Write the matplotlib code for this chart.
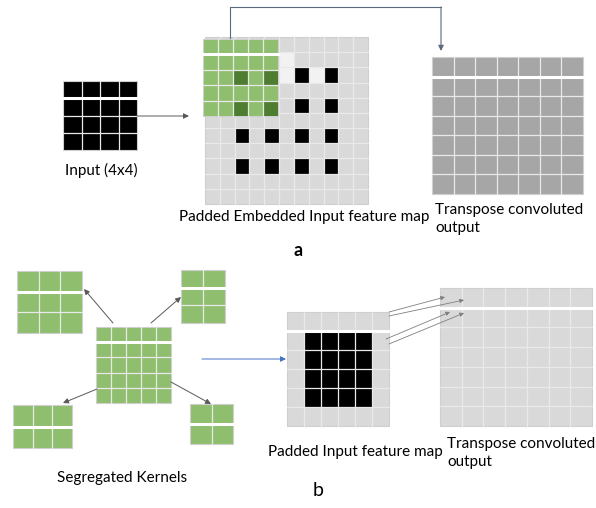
"""Transposed convolution vs. segregated kernels: two-panel schematic."""
import matplotlib
matplotlib.use("Agg")
import matplotlib.pyplot as plt
from matplotlib.patches import Rectangle

# ── diagram content ──────────────────────────────────────────────────────────
INPUT_SHAPE = (4, 4)                    # rows, cols
PAD_A_SHAPE = (11, 11)
PAD_A_BLACK_ROWS = [2, 4, 6, 8]         # embedded input (stride-2 zero insertion)
PAD_A_BLACK_COLS = [2, 4, 6, 8]
PAD_A_LIGHT = [(1, 5), (2, 5), (2, 7)]
KERNEL_SHAPE = (5, 5)
OUT_SHAPE = (7, 7)
SUB_KERNEL_SHAPES = [(3, 3), (3, 2), (2, 3), (2, 2)]   # TL, TR, BL, BR
PAD_B_SHAPE = (6, 6)
PAD_B_BLACK_ROWS = [1, 2, 3, 4]
PAD_B_BLACK_COLS = [1, 2, 3, 4]

LBL_INPUT = "Input (4x4)"
LBL_PAD_A = "Padded Embedded Input feature map"
LBL_PAD_B = "Padded Input feature map"
LBL_OUT = "Transpose convoluted\noutput"
LBL_KERN = "Segregated Kernels"
PANELS = ["a", "b"]

GREEN = "#8fbf6e"
DARK_GREEN = "#4e7d32"
LIGHT = "#d9d9d9"
PALE = "#f2f2f2"
DARK = "#a6a6a6"
LINE = "#e9e9e9"
ARROW = "#595959"
FONT = "Lato"
FS = 11


def grid(ax, box, shape, color, cells=None, gap=True, lw=0.9, zorder=1):
    """box = (x0, y0, x1, y1) in pixels; cells = {(r, c): colour}."""
    x0, y0, x1, y1 = box
    nr, nc = shape
    cw, ch = (x1 - x0) / nc, (y1 - y0) / nr
    ax.add_patch(Rectangle((x0, y0), x1 - x0, y1 - y0, facecolor=color,
                           edgecolor="#cfcfcf", linewidth=0.8, zorder=zorder))
    for (r, c), col in (cells or {}).items():
        ax.add_patch(Rectangle((x0 + c * cw, y0 + r * ch), cw, ch,
                               facecolor=col, edgecolor="none", zorder=zorder + 0.1))
    for i in range(1, nc):
        ax.plot([x0 + i * cw] * 2, [y0, y1], color=LINE, lw=lw, zorder=zorder + 0.2)
    for j in range(1, nr):
        w = 2.2 if (gap and j == 1) else lw
        c = "white" if (gap and j == 1) else LINE
        ax.plot([x0, x1], [y0 + j * ch] * 2, color=c, lw=w, zorder=zorder + 0.2)


def arrow(ax, p0, p1, color=ARROW, lw=0.7, ms=8, head=None):
    ax.annotate("", xy=p1, xytext=p0,
                arrowprops=dict(arrowstyle="-|>", color=color, lw=lw,
                                mutation_scale=ms, shrinkA=0, shrinkB=0,
                                fc=head or color, ec=head or color))


def main():
    fig = plt.figure(figsize=(5.96, 5.08), dpi=100)
    ax = fig.add_axes([0, 0, 1, 1])
    ax.set_xlim(0, 596)
    ax.set_ylim(508, 0)
    ax.axis("off")

    # ── panel a ──────────────────────────────────────────────────────────────
    grid(ax, (63, 81, 137, 150), INPUT_SHAPE, "black")
    ax.text(101, 170, LBL_INPUT, ha="center", va="center", fontsize=FS, family=FONT)
    arrow(ax, (137, 116), (189, 116))

    cells = {(r, c): "black" for r in PAD_A_BLACK_ROWS for c in PAD_A_BLACK_COLS}
    cells.update({rc: PALE for rc in PAD_A_LIGHT})
    grid(ax, (205, 37, 368, 204), PAD_A_SHAPE, LIGHT, cells, gap=False)

    # kernel window over the top-left corner
    kr, kc = KERNEL_SHAPE
    kcells = {(r, c): DARK_GREEN for r in PAD_A_BLACK_ROWS if r < kr
              for c in PAD_A_BLACK_COLS if c < kc}
    grid(ax, (203, 39, 278, 116), KERNEL_SHAPE, GREEN, kcells, zorder=3)

    # connector kernel -> output
    ax.plot([230, 230, 441], [38, 7, 7], color="#5b6b7c", lw=0.8, zorder=4)
    arrow(ax, (441, 7), (441, 51), color="#5b6b7c", lw=0.8)

    grid(ax, (432, 57, 583, 194), OUT_SHAPE, DARK)
    ax.text(304, 217, LBL_PAD_A, ha="center", va="center", fontsize=FS, family=FONT)
    ax.text(435, 219, LBL_OUT, ha="left", va="center", fontsize=FS,
            family=FONT, linespacing=1.35)
    ax.text(298, 250, PANELS[0], ha="center", va="center", fontsize=13,
            fontweight="bold", family=FONT)

    # ── panel b ──────────────────────────────────────────────────────────────
    grid(ax, (96, 327, 171, 403), KERNEL_SHAPE, GREEN)
    boxes = [(17, 271, 82, 333), (181, 270, 225, 323),
             (13, 405, 72, 448), (190, 404, 233, 444)]
    for box, shp in zip(boxes, SUB_KERNEL_SHAPES):
        grid(ax, box, shp, GREEN)
    arrow(ax, (113, 323), (84, 289))
    arrow(ax, (151, 323), (181, 297))
    arrow(ax, (97, 389), (63, 403))
    arrow(ax, (171, 382), (211, 404))
    ax.text(122, 478, LBL_KERN, ha="center", va="center", fontsize=FS, family=FONT)

    arrow(ax, (202, 359), (286, 359), color="#8497b0", head="#4472c4")

    cells = {(r, c): "black" for r in PAD_B_BLACK_ROWS for c in PAD_B_BLACK_COLS}
    grid(ax, (287, 312, 389, 426), PAD_B_SHAPE, LIGHT, cells)
    grid(ax, (440, 288, 592, 426), OUT_SHAPE, LIGHT)

    for p0, p1 in [((389, 312), (445, 297)), ((389, 316), (464, 300)),
                   ((386, 339), (450, 312)), ((389, 344), (464, 313))]:
        arrow(ax, p0, p1, color="#7f7f7f", lw=0.6, ms=6)

    ax.text(355, 452, LBL_PAD_B, ha="center", va="center", fontsize=FS, family=FONT)
    ax.text(447, 453, LBL_OUT, ha="left", va="center", fontsize=FS,
            family=FONT, linespacing=1.35)
    ax.text(318, 490, PANELS[1], ha="center", va="center", fontsize=14, family=FONT)

    fig.savefig("out.png", dpi=100, facecolor="white")
    plt.close(fig)


if __name__ == "__main__":
    main()
